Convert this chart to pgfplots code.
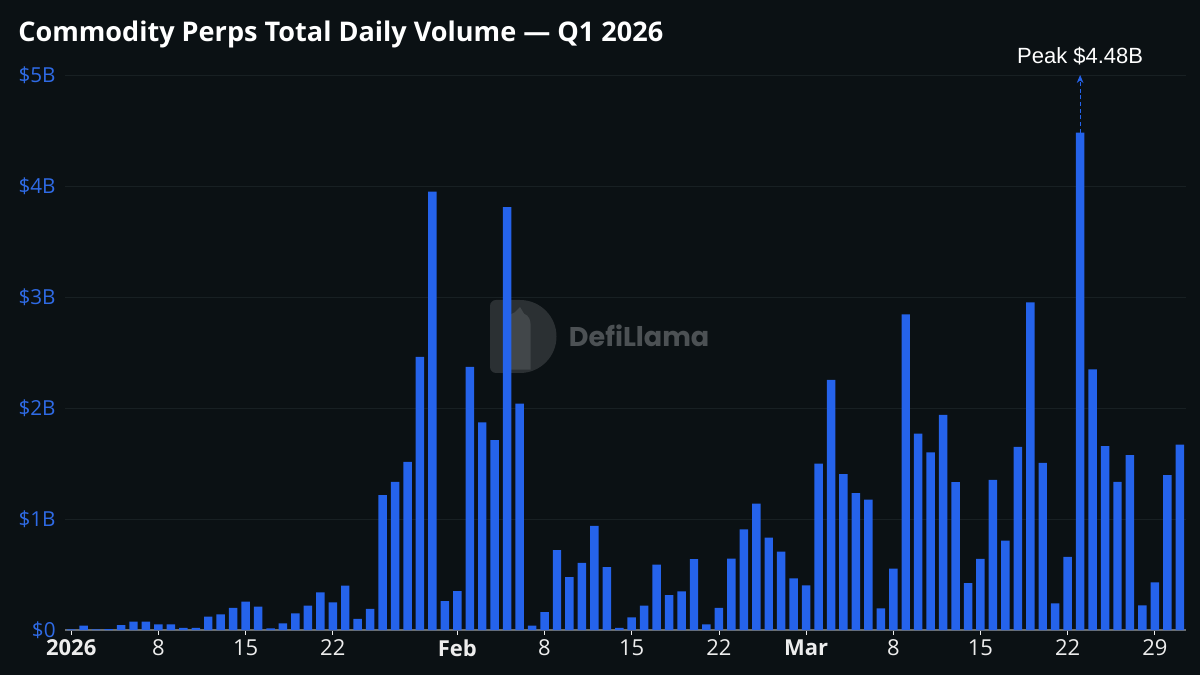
\documentclass[border=0pt]{standalone}
\usepackage{pgfplots}
\pgfplotsset{compat=1.18}
\usepackage{pgfplotstable}
\usepackage{fontspec}
\setmainfont{Open Sans}
\newfontfamily\peakfont{Liberation Sans}
\newfontfamily\wmfont{Poppins}
\usetikzlibrary{arrows.meta}

\definecolor{bg}{HTML}{0B1114}
\definecolor{barblue}{HTML}{2563EB}
\definecolor{ylab}{HTML}{2F6BE6}
\definecolor{gridc}{HTML}{182023}
\definecolor{axisc}{HTML}{6A6E70}
\definecolor{xlab}{HTML}{EDEDED}
\definecolor{wmdark}{HTML}{2B3033}
\definecolor{wmlight}{HTML}{42474A}
\definecolor{wmtext}{HTML}{4C5154}

\pgfplotstableread{
day vol
0 0.005
1 0.040
2 0.006
3 0.008
4 0.045
5 0.075
6 0.075
7 0.050
8 0.050
9 0.020
10 0.020
11 0.120
12 0.140
13 0.200
14 0.255
15 0.210
16 0.015
17 0.060
18 0.150
19 0.220
20 0.340
21 0.250
22 0.400
23 0.100
24 0.190
25 1.215
26 1.335
27 1.515
28 2.460
29 3.950
30 0.260
31 0.350
32 2.370
33 1.870
34 1.710
35 3.810
36 2.040
37 0.040
38 0.162
39 0.720
40 0.476
41 0.605
42 0.937
43 0.566
44 0.020
45 0.114
46 0.219
47 0.590
48 0.314
49 0.347
50 0.638
51 0.050
52 0.200
53 0.644
54 0.907
55 1.138
56 0.832
57 0.707
58 0.464
59 0.401
60 1.500
61 2.254
62 1.404
63 1.234
64 1.174
65 0.195
66 0.554
67 2.844
68 1.770
69 1.600
70 1.937
71 1.332
72 0.422
73 0.641
74 1.353
75 0.805
76 1.650
77 2.952
78 1.506
79 0.240
80 0.659
81 4.480
82 2.347
83 1.656
84 1.335
85 1.575
86 0.222
87 0.428
88 1.395
89 1.671
}\datatable

\begin{document}
\begin{tikzpicture}[x=1pt,y=1pt]
\fill[bg] (0,0) rectangle (900,506.25);
% title
\node[anchor=base west, inner sep=0pt, text=white, font=\bfseries\fontsize{20.3}{23}\selectfont] at (13.5,475.1) {Commodity Perps Total Daily Volume --- Q1 2026};
% watermark
\fill[wmdark] (390,226.5) arc(-90:90:27.375) -- (372,281.25) to[out=180,in=90] (367.5,276.75) -- (367.5,231) to[out=-90,in=180] (372,226.5) -- cycle;
\fill[wmlight] (378,229) -- (378,262) to[out=90,in=200] (386,272) -- (390,276) -- (393,271) to[out=-20,in=90] (398,262) -- (398,229) -- cycle;
\node[anchor=base west, inner sep=0pt, text=wmtext, font=\wmfont\bfseries\fontsize{20.3}{22}\selectfont] at (426.5,246) {DefiLlama};
\begin{axis}[
  at={(48.75pt,33.75pt)}, anchor=south west,
  width=840.75pt, height=416.25pt, scale only axis,
  xmin=-0.5, xmax=89.5, ymin=0, ymax=5,
  ybar, bar width=0.68,
  axis x line*=bottom, axis y line*=left,
  x axis line style={draw=axisc, line width=0.8pt},
  y axis line style={draw=none},
  xtick={0,7,14,21,31,38,45,52,59,66,73,80,87},
  xticklabels={\textbf{2026},8,15,22,\textbf{Feb},8,15,22,\textbf{Mar},8,15,22,29},
  ytick={0,1,2,3,4,5},
  yticklabels={\$0,\$1B,\$2B,\$3B,\$4B,\$5B},
  ymajorgrids, grid style={gridc, line width=0.7pt},
  tick align=outside, major tick length=3.5pt,
  x tick style={draw=xlab, line width=0.6pt},
  y tick style={draw=none},
  xticklabel style={font=\fontsize{16.5}{17}\selectfont, text=xlab},
  yticklabel style={font=\fontsize{15.5}{16}\selectfont, text=ylab},
  /pgf/number format/assume math mode=true,
  clip=false,
]
\addplot[fill=barblue, draw=none, bar shift=0pt] table[x=day,y=vol] {\datatable};
\draw[barblue, densely dashed, line width=0.6pt, -{Stealth[length=6pt,width=5pt]}] (axis cs:81,4.48) -- (axis cs:81,5);
\node[anchor=base, inner sep=0pt, text=white, font=\peakfont\fontsize{16.5}{18}\selectfont] at (axis cs:81,5) [yshift=9pt] {Peak \$4.48B};
\end{axis}
\pgfresetboundingbox
\path (0,0) rectangle (900,506.25);
\end{tikzpicture}
\end{document}
